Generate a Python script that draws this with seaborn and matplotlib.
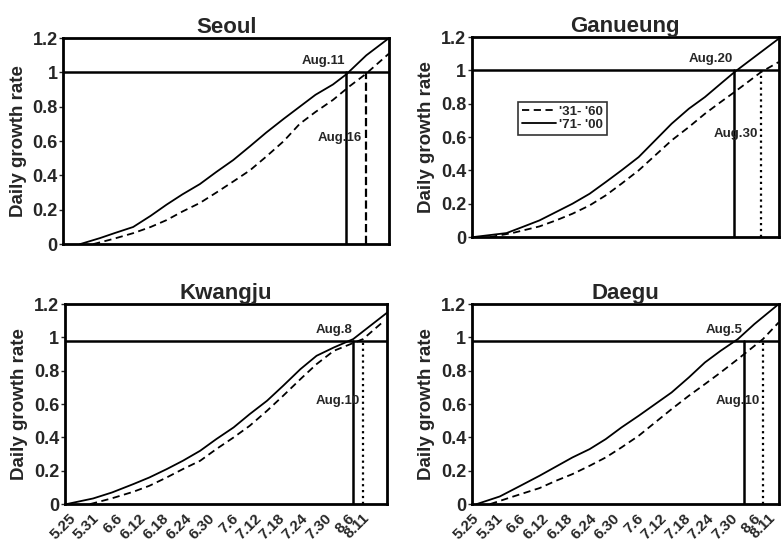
import pandas as pd
import seaborn as sns
import matplotlib.pyplot as plt

cities = ["Seoul", "Ganueung", "Kwangju", "Daegu"]
periods = ["'31- '60", "'71- '00"]
tick_labels = ["5.25", "5.31", "6.6", "6.12", "6.18", "6.24", "6.30",
               "7.6", "7.12", "7.18", "7.24", "7.30", "8.6", "8.11"]
# where each date label sits on the day axis (read per panel)
kwa_ticks = [1.0, 6.9, 12.8, 18.7, 24.6, 30.5, 36.4, 42.3, 48.2, 54.1, 60.0, 65.9, 71.8, 75.6]
dae_ticks = [0.0, 6.3, 12.6, 18.8, 25.1, 31.4, 37.7, 44.0, 50.2, 56.5, 62.8, 69.1, 75.4, 79.3]

# days after 5.25 / daily growth rate
seoul_old_day = [7.5, 12.5, 17.6, 22, 26, 30, 34.4, 38.5, 42.8, 47, 51.1, 55.5, 59.5, 63.5, 67.9, 72.1, 76.1, 82]
seoul_old_rate = [0, 0.03, 0.064, 0.10, 0.14, 0.19, 0.24, 0.30, 0.365, 0.43, 0.51, 0.60, 0.70, 0.77, 0.84, 0.92, 0.99, 1.11]
seoul_new_day = [4.2, 9.2, 13, 17.6, 22, 26, 30, 34.4, 38.5, 42.8, 47, 51.1, 55.5, 59.5, 63.5, 67.9, 71.3, 76.3, 82]
seoul_new_rate = [0, 0.035, 0.065, 0.10, 0.165, 0.23, 0.29, 0.35, 0.42, 0.49, 0.57, 0.65, 0.73, 0.80, 0.87, 0.93, 0.99, 1.10, 1.2]

gan_old_day = [4.9, 11, 18.1, 22.5, 26.9, 31.5, 35.8, 40, 44.6, 49, 53.4, 58, 62.3, 66.5, 70.2, 77.3, 82]
gan_old_rate = [0, 0.025, 0.064, 0.10, 0.14, 0.19, 0.25, 0.32, 0.40, 0.49, 0.58, 0.66, 0.74, 0.81, 0.87, 0.99, 1.05]
gan_new_day = [0.4, 9.3, 13.5, 18.1, 22.5, 26.9, 31.5, 35.8, 40, 44.6, 49, 53.4, 58, 62.3, 66.5, 70.2, 75.5, 82]
gan_new_rate = [0, 0.024, 0.06, 0.10, 0.15, 0.20, 0.26, 0.33, 0.40, 0.48, 0.58, 0.68, 0.77, 0.84, 0.92, 0.99, 1.08, 1.19]

kwa_old_day = [6.4, 12, 17.4, 21.5, 25.9, 30, 34.4, 38.5, 42.9, 47, 51.4, 55.5, 59.9, 64, 68.4, 75.8, 81.2]
kwa_old_rate = [0, 0.035, 0.074, 0.11, 0.16, 0.21, 0.26, 0.33, 0.40, 0.47, 0.56, 0.65, 0.75, 0.84, 0.92, 0.99, 1.10]
kwa_new_day = [0.4, 7.2, 12, 17.4, 21.5, 25.9, 30, 34.4, 38.5, 42.9, 47, 51.4, 55.5, 59.9, 64, 68.4, 73.3, 82]
kwa_new_rate = [0, 0.034, 0.07, 0.12, 0.16, 0.21, 0.26, 0.32, 0.39, 0.46, 0.54, 0.62, 0.71, 0.81, 0.89, 0.94, 0.99, 1.15]

dae_old_day = [4.9, 11, 18.1, 22.5, 26.9, 31.5, 35.8, 40, 44.6, 49, 53.4, 58, 62.3, 66.5, 71.1, 77.8, 82]
dae_old_rate = [0, 0.045, 0.096, 0.14, 0.18, 0.23, 0.28, 0.34, 0.41, 0.49, 0.57, 0.65, 0.72, 0.79, 0.87, 0.99, 1.09]
dae_new_day = [1.3, 7.5, 13, 18.1, 22.5, 26.9, 31.5, 35.8, 40, 44.6, 49, 53.4, 58, 62.3, 66.5, 71.1, 75.5, 82]
dae_new_rate = [0, 0.046, 0.11, 0.17, 0.225, 0.28, 0.33, 0.39, 0.46, 0.53, 0.60, 0.67, 0.76, 0.85, 0.92, 0.99, 1.08, 1.2]

ref_level = [1.0, 1.0, 0.98, 0.98]
cross_new = [71.3, 70.2, 73.3, 72.7]
cross_old = [76.1, 77.3, 75.8, 77.8]
label_new = ["Aug.11", "Aug.20", "Aug.8", "Aug.5"]
label_old = ["Aug.16", "Aug.30", "Aug.10", "Aug.10"]
old_style = ["--", ":", ":", ":"]

curves = {
    "Seoul": (seoul_old_day, seoul_old_rate, seoul_new_day, seoul_new_rate),
    "Ganueung": (gan_old_day, gan_old_rate, gan_new_day, gan_new_rate),
    "Kwangju": (kwa_old_day, kwa_old_rate, kwa_new_day, kwa_new_rate),
    "Daegu": (dae_old_day, dae_old_rate, dae_new_day, dae_new_rate),
}

rows = []
for city, (od, orate, nd, nrate) in curves.items():
    for d, r in zip(od, orate):
        rows.append((city, periods[0], d, r))
    for d, r in zip(nd, nrate):
        rows.append((city, periods[1], d, r))
df = pd.DataFrame(rows, columns=["city", "period", "day", "rate"])

sns.set_theme(style="ticks")
plt.rcParams["font.family"] = ["Liberation Sans", "DejaVu Sans"]
plt.rcParams["font.weight"] = "bold"

fig = plt.figure(figsize=(7.81, 5.45), dpi=100)
positions = [
    [0.081, 0.552, 0.417, 0.378],
    [0.604, 0.565, 0.393, 0.367],
    [0.083, 0.075, 0.413, 0.367],
    [0.604, 0.075, 0.393, 0.367],
]
bottom_ticks = {2: kwa_ticks, 3: dae_ticks}

for i, city in enumerate(cities):
    ax = fig.add_axes(positions[i])
    sub = df[df.city == city]
    sns.lineplot(data=sub, x="day", y="rate", style="period", color="black",
                 dashes={periods[0]: (4, 2.5), periods[1]: ""},
                 style_order=periods, linewidth=1.3, ax=ax,
                 legend=(i == 1))
    ax.set_xlim(0, 82)
    ax.set_ylim(0, 1.2)
    ax.axhline(ref_level[i], color="black", lw=1.8)
    ax.plot([cross_new[i], cross_new[i]], [0, ref_level[i]], color="black", lw=1.8)
    ax.plot([cross_old[i], cross_old[i]], [0, ref_level[i]], color="black",
            lw=1.6, ls=old_style[i])
    ax.text(cross_new[i] - 0.3, ref_level[i] + 0.03, label_new[i],
            ha="right", va="bottom", fontsize=9.5, fontweight="bold")
    ax.text(cross_old[i] - 0.8, 0.62, label_old[i],
            ha="right", va="center", fontsize=9.5, fontweight="bold")

    ax.set_title(city, fontsize=16, fontweight="bold", pad=3)
    ax.set_ylabel("Daily growth rate", fontsize=13.5, fontweight="bold", labelpad=4)
    ax.set_xlabel("")
    ax.set_yticks([0, 0.2, 0.4, 0.6, 0.8, 1.0, 1.2])
    ax.set_yticklabels(["0", "0.2", "0.4", "0.6", "0.8", "1", "1.2"],
                       fontsize=13, fontweight="bold")
    ax.tick_params(axis="y", length=3, width=1, pad=1)
    if i >= 2:
        ax.set_xticks(bottom_ticks[i])
        ax.set_xticklabels(tick_labels, rotation=45, ha="right",
                           rotation_mode="anchor", fontsize=11, fontweight="bold")
        ax.tick_params(axis="x", length=0, pad=5)
    else:
        ax.set_xticks([])
    for sp in ax.spines.values():
        sp.set_visible(True)
        sp.set_color("black")
        sp.set_linewidth(2)
    if i == 1:
        leg = ax.legend(title=None, loc="upper left", bbox_to_anchor=(0.13, 0.71),
                        frameon=True, fancybox=False, edgecolor="black",
                        fontsize=9.5, handlelength=2.6, borderpad=0.3,
                        labelspacing=0.05, handletextpad=0.2)
        leg.get_frame().set_linewidth(1.2)
        for t in leg.get_texts():
            t.set_fontweight("bold")

fig.savefig("out.png", dpi=100)
